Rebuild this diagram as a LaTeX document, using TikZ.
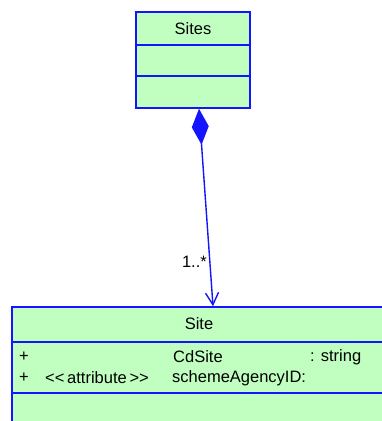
\documentclass[tikz,border=0pt]{standalone}
\usepackage{fontspec}
\setmainfont{Liberation Sans}
\usepackage{tikz}
\usetikzlibrary{arrows.meta}

\definecolor{classfill}{RGB}{192,255,192}
\definecolor{classline}{RGB}{20,20,255}

\begin{document}
\begin{tikzpicture}[x=1pt,y=-1pt,
        classbox/.style={draw=classline,fill=classfill,line width=1.6pt,inner sep=0pt},
        txt/.style={inner sep=0pt,font=\fontsize{16.5}{19}\selectfont},
        assoc/.style={draw=classline,line width=1.4pt,
            {Diamond[length=36pt,width=17pt,fill=classline]}-{Straight Barb[length=12pt,width=13pt]}}]
            \useasboundingbox (0,0) rectangle (382,421);

            %%%% Sites
            \node[classbox,minimum width=114pt,minimum height=96pt] (sites) at (193,60) {};
            \draw [classline,line width=1.6pt] (136,45) -- (250,45);
            \draw [classline,line width=1.6pt] (136,76) -- (250,76);
            \node[txt] (sitesname) at (193,28.5) {Sites};

            %%%% Site
            \node[classbox,minimum width=374pt,minimum height=140pt] (site) at (199,377) {};
            \draw [classline,line width=1.6pt] (12,342) -- (386,342);
            \draw [classline,line width=1.6pt] (12,393) -- (386,393);
            \node[txt] (sitename) at (199,324) {Site};

            \node[txt,anchor=west] (vis1) at (19,357) {+};
            \node[txt,anchor=west] (vis2) at (19,378) {+};
            \node[txt,anchor=west] (stereo) at (45,378) {<{}<\,attribute\,>{}>};
            \node[txt,anchor=west] (attr1) at (173,357) {CdSite};
            \node[txt,anchor=west] (attr2) at (172,378) {schemeAgencyID:};
            \node[txt,anchor=west] (type1) at (310,357) {: string};

            %%%% composition
            \draw [assoc] ([xshift=6pt]sites.south) -- ([xshift=14pt]site.north);
            \node[txt,anchor=east] (mult) at (207,262) {1..*};
        \end{tikzpicture}
\end{document}
